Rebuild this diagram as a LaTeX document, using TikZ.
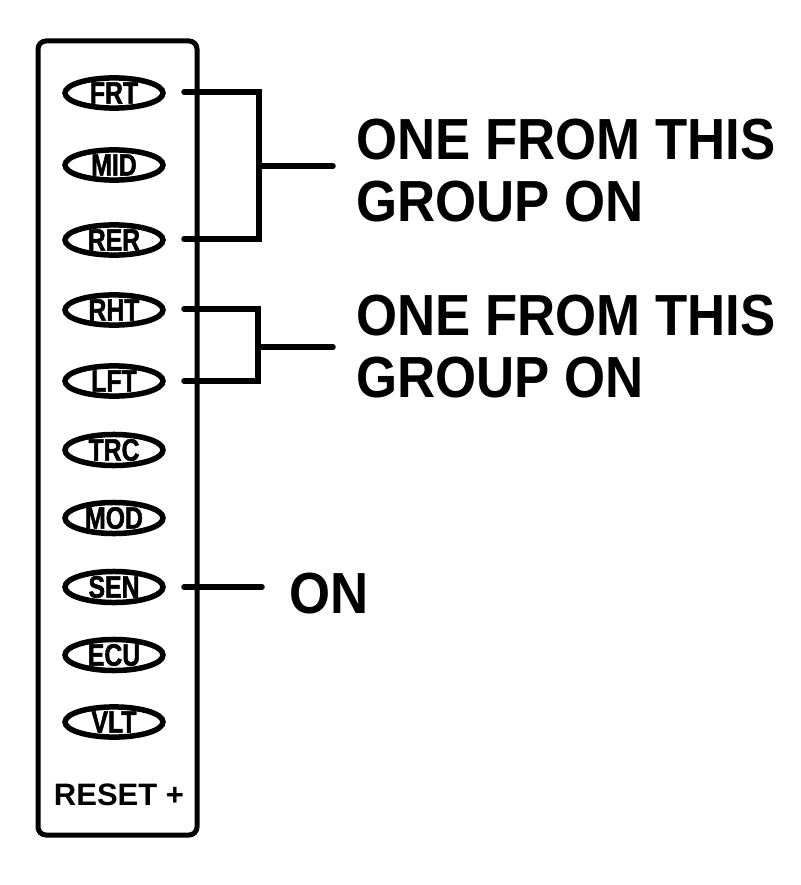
\documentclass[tikz,border=0pt]{standalone}
\usepackage{fontspec}
\setmainfont{Liberation Sans}
\newfontfamily\lblfont[FakeStretch=0.8,FakeBold=1.5]{Liberation Sans Bold}
\newfontfamily\resetfont{Liberation Sans Bold}
\newfontfamily\bigfont[FakeStretch=0.91]{Liberation Sans Bold}
\usetikzlibrary{shapes.geometric}
\begin{document}
\begin{tikzpicture}[x=1pt,y=-1pt,
  panel/.style={line width=5pt,rounded corners=8pt},
  lamp/.style={ellipse,draw,line width=5.5pt,minimum width=98pt,minimum height=29pt,inner sep=0pt,
    font=\lblfont\fontsize{31}{31}\selectfont},
  wire/.style={line width=5.5pt},
  note/.style={anchor=west,align=left,inner sep=0pt,font=\bigfont\fontsize{58}{62}\selectfont}
]
\useasboundingbox (0,0) rectangle (800,885);
\draw[panel] (38,41) rectangle (197,835);
\node[lamp] (frt) at (114,93) {FRT};
\node[lamp] (mid) at (114,165) {MID};
\node[lamp] (rer) at (114,240) {RER};
\node[lamp] (rht) at (114,310) {RHT};
\node[lamp] (lft) at (114,381) {LFT};
\node[lamp] (trc) at (114,450) {TRC};
\node[lamp] (mod) at (114,518) {MOD};
\node[lamp] (sen) at (114,587) {SEN};
\node[lamp] (ecu) at (114,655) {ECU};
\node[lamp] (vlt) at (114,722) {VLT};
\node[font=\resetfont\fontsize{31}{31}\selectfont,inner sep=0pt] (reset) at (119,795) {RESET +};
% group 1
\coordinate (g1a) at (184,92);
\coordinate (g1b) at (184,239);
\coordinate (g1m) at (259,166);
\coordinate (g1e) at (333,166);
\draw[wire,line cap=round] (g1a) -| (g1m) |- (g1b);
\draw[wire,line cap=round] (g1m) -- (g1e);
\node[note] (t1) at (356,171) {ONE FROM THIS\\GROUP ON};
% group 2
\coordinate (g2a) at (184,309);
\coordinate (g2b) at (184,381);
\coordinate (g2m) at (258,347);
\coordinate (g2e) at (333,347);
\draw[wire,line cap=round] (g2a) -| (g2m) |- (g2b);
\draw[wire,line cap=round] (g2m) -- (g2e);
\node[note] (t2) at (356,347) {ONE FROM THIS\\GROUP ON};
% sen
\coordinate (s1) at (184,587);
\coordinate (s2) at (262,587);
\draw[wire,line cap=round] (s1) -- (s2);
\node[note] (t3) at (289,594) {ON};
\end{tikzpicture}
\end{document}
